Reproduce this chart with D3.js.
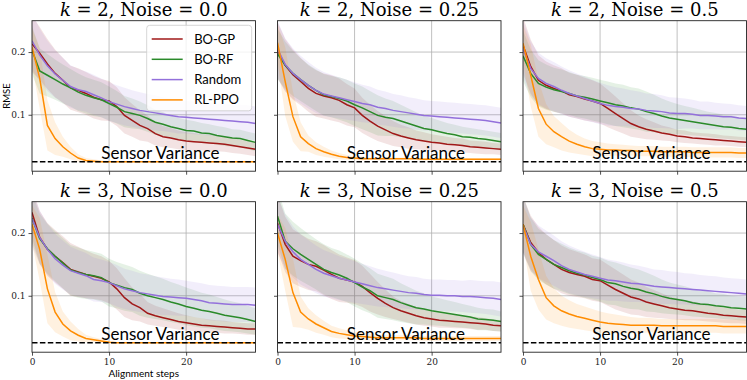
<!DOCTYPE html>
<html>
<head>
<meta charset="utf-8">
<script src="https://cdn.jsdelivr.net/npm/d3@7"></script>
<style>
  body { margin: 0; background: #fff; }
  svg { display: block; }
</style>
</head>
<body>
<svg id="svg"></svg>
<script>
// methods and colours
const methods = ['BO-GP', 'BO-RF', 'Random', 'RL-PPO']
const methodColors = ['#a01818', '#2a8a2a', '#9370db', '#ff8c00']

const kValues = [2, 2, 2, 3, 3, 3]
const noiseLabels = ['0.0', '0.25', '0.5', '0.0', '0.25', '0.5']

const sensorVariance = 0.025
const xTicks = [0, 10, 20]
const yTicks = [0.1, 0.2]

// ---- k = 2, noise 0.0
const gp_k2_n00 = [0.213,0.198,0.181,0.166,0.155,0.143,0.139,0.134,0.128,0.124,0.122,0.113,0.099,0.091,0.083,0.078,0.070,0.065,0.063,0.060,0.058,0.057,0.056,0.055,0.054,0.053,0.051,0.049,0.047,0.045]
const rf_k2_n00 = [0.203,0.170,0.163,0.156,0.149,0.143,0.136,0.131,0.127,0.124,0.118,0.112,0.105,0.102,0.099,0.094,0.088,0.085,0.081,0.078,0.075,0.074,0.071,0.070,0.067,0.065,0.063,0.062,0.059,0.056]
const rnd_k2_n00 = [0.218,0.195,0.178,0.165,0.155,0.145,0.140,0.137,0.132,0.127,0.121,0.117,0.113,0.110,0.107,0.105,0.103,0.101,0.099,0.097,0.096,0.095,0.094,0.093,0.092,0.091,0.090,0.089,0.088,0.086]
const ppo_k2_n00 = [0.208,0.158,0.083,0.062,0.049,0.039,0.031,0.027,0.026,0.025,0.025,0.025,0.025,0.025,0.025,0.025,0.025,0.025,0.025,0.025,0.025,0.025,0.025,0.025,0.025,0.025,0.025,0.025,0.025,0.025]
const gp_k2_n00_sd = [0.045,0.042,0.040,0.038,0.036,0.035,0.035,0.034,0.034,0.033,0.032,0.031,0.029,0.026,0.024,0.021,0.019,0.017,0.016,0.015,0.014,0.014,0.013,0.013,0.012,0.012,0.012,0.011,0.011,0.011]
const rf_k2_n00_sd = [0.038,0.036,0.034,0.032,0.031,0.030,0.030,0.029,0.029,0.028,0.027,0.026,0.025,0.024,0.022,0.021,0.020,0.019,0.018,0.017,0.017,0.016,0.016,0.015,0.015,0.015,0.014,0.014,0.014,0.014]
const rnd_k2_n00_sd = [0.045,0.042,0.040,0.038,0.036,0.034,0.033,0.032,0.032,0.031,0.031,0.030,0.030,0.029,0.029,0.028,0.028,0.027,0.027,0.027,0.026,0.026,0.026,0.026,0.026,0.026,0.026,0.027,0.027,0.027]
const ppo_k2_n00_sd = [0.030,0.048,0.040,0.026,0.016,0.010,0.006,0.004,0.003,0.002,0.001,0.001,0.001,0.001,0.001,0.001,0.001,0.001,0.001,0.001,0.001,0.001,0.001,0.001,0.001,0.001,0.001,0.001,0.001,0.001]

// ---- k = 2, noise 0.25
const gp_k2_n025 = [0.203,0.179,0.164,0.153,0.142,0.134,0.130,0.127,0.123,0.116,0.111,0.099,0.090,0.082,0.076,0.070,0.066,0.063,0.060,0.058,0.056,0.055,0.053,0.052,0.051,0.049,0.048,0.047,0.046,0.045]
const rf_k2_n025 = [0.197,0.179,0.166,0.156,0.147,0.139,0.132,0.129,0.126,0.122,0.116,0.111,0.105,0.099,0.096,0.094,0.090,0.086,0.082,0.078,0.076,0.073,0.070,0.068,0.065,0.064,0.062,0.061,0.059,0.057]
const rnd_k2_n025 = [0.205,0.180,0.166,0.156,0.147,0.139,0.133,0.130,0.127,0.124,0.121,0.118,0.116,0.112,0.110,0.107,0.105,0.103,0.101,0.099,0.098,0.097,0.096,0.095,0.094,0.093,0.092,0.091,0.089,0.087]
const ppo_k2_n025 = [0.215,0.153,0.097,0.065,0.054,0.046,0.041,0.037,0.034,0.032,0.031,0.030,0.030,0.030,0.030,0.030,0.030,0.030,0.030,0.029,0.029,0.029,0.029,0.029,0.029,0.029,0.029,0.029,0.029,0.029]
const gp_k2_n025_sd = [0.045,0.042,0.040,0.038,0.037,0.037,0.036,0.036,0.035,0.033,0.031,0.028,0.026,0.024,0.022,0.020,0.018,0.017,0.015,0.014,0.013,0.012,0.012,0.011,0.011,0.010,0.010,0.010,0.009,0.009]
const rf_k2_n025_sd = [0.040,0.038,0.036,0.034,0.033,0.033,0.033,0.033,0.034,0.034,0.034,0.034,0.033,0.032,0.030,0.028,0.026,0.024,0.022,0.020,0.019,0.018,0.017,0.016,0.016,0.015,0.015,0.014,0.014,0.014]
const rnd_k2_n025_sd = [0.045,0.042,0.040,0.038,0.037,0.036,0.035,0.034,0.033,0.032,0.031,0.030,0.029,0.028,0.027,0.026,0.026,0.025,0.025,0.024,0.024,0.024,0.024,0.024,0.024,0.024,0.024,0.024,0.024,0.024]
const ppo_k2_n025_sd = [0.030,0.055,0.040,0.023,0.013,0.010,0.008,0.006,0.005,0.004,0.003,0.003,0.002,0.002,0.002,0.002,0.002,0.002,0.002,0.002,0.002,0.002,0.002,0.002,0.002,0.002,0.002,0.002,0.002,0.002]

// ---- k = 2, noise 0.5
const gp_k2_n05 = [0.211,0.177,0.155,0.147,0.142,0.138,0.132,0.129,0.125,0.122,0.118,0.110,0.102,0.094,0.086,0.081,0.077,0.074,0.071,0.069,0.066,0.065,0.063,0.062,0.061,0.060,0.059,0.058,0.057,0.056]
const rf_k2_n05 = [0.194,0.166,0.150,0.144,0.140,0.137,0.134,0.130,0.128,0.125,0.122,0.119,0.116,0.114,0.111,0.109,0.105,0.102,0.098,0.095,0.093,0.091,0.089,0.087,0.085,0.083,0.081,0.080,0.078,0.077]
const rnd_k2_n05 = [0.205,0.174,0.158,0.150,0.145,0.139,0.134,0.130,0.126,0.122,0.118,0.115,0.113,0.112,0.110,0.109,0.107,0.106,0.105,0.103,0.102,0.102,0.101,0.099,0.099,0.098,0.097,0.097,0.095,0.094]
const ppo_k2_n05 = [0.214,0.163,0.110,0.085,0.073,0.065,0.058,0.053,0.049,0.046,0.045,0.044,0.044,0.043,0.043,0.042,0.042,0.042,0.041,0.041,0.041,0.041,0.040,0.040,0.040,0.040,0.040,0.040,0.039,0.039]
const gp_k2_n05_sd = [0.045,0.043,0.040,0.038,0.037,0.036,0.035,0.035,0.034,0.033,0.032,0.030,0.027,0.024,0.021,0.018,0.016,0.014,0.012,0.011,0.010,0.010,0.009,0.009,0.009,0.009,0.008,0.008,0.008,0.008]
const rf_k2_n05_sd = [0.040,0.038,0.037,0.036,0.035,0.035,0.034,0.034,0.034,0.034,0.034,0.034,0.034,0.034,0.033,0.033,0.032,0.030,0.028,0.026,0.024,0.023,0.022,0.021,0.020,0.020,0.019,0.019,0.018,0.018]
const rnd_k2_n05_sd = [0.045,0.043,0.041,0.040,0.039,0.038,0.037,0.036,0.035,0.034,0.033,0.032,0.031,0.030,0.029,0.028,0.027,0.027,0.026,0.025,0.025,0.024,0.023,0.022,0.022,0.021,0.021,0.020,0.020,0.020]
const ppo_k2_n05_sd = [0.030,0.050,0.045,0.032,0.025,0.022,0.018,0.015,0.013,0.012,0.011,0.010,0.009,0.009,0.008,0.008,0.008,0.008,0.008,0.008,0.008,0.008,0.008,0.008,0.008,0.008,0.008,0.008,0.008,0.008]

// ---- k = 3, noise 0.0
const gp_k3_n00 = [0.233,0.193,0.174,0.163,0.153,0.142,0.138,0.134,0.131,0.128,0.122,0.111,0.097,0.087,0.081,0.072,0.068,0.065,0.062,0.059,0.057,0.055,0.053,0.052,0.051,0.050,0.049,0.048,0.047,0.047]
const rf_k3_n00 = [0.224,0.191,0.175,0.163,0.152,0.141,0.137,0.134,0.132,0.129,0.121,0.117,0.113,0.110,0.104,0.100,0.097,0.094,0.090,0.087,0.083,0.080,0.077,0.075,0.072,0.069,0.067,0.065,0.062,0.059]
const rnd_k3_n00 = [0.223,0.193,0.174,0.159,0.149,0.140,0.136,0.132,0.126,0.124,0.121,0.116,0.111,0.108,0.105,0.103,0.101,0.099,0.098,0.097,0.096,0.094,0.092,0.089,0.088,0.087,0.086,0.086,0.086,0.085]
const ppo_k3_n00 = [0.214,0.174,0.111,0.074,0.055,0.044,0.037,0.032,0.030,0.028,0.026,0.025,0.025,0.025,0.025,0.025,0.025,0.025,0.025,0.025,0.025,0.025,0.025,0.025,0.025,0.025,0.025,0.025,0.025,0.025]
const gp_k3_n00_sd = [0.040,0.042,0.042,0.042,0.042,0.042,0.040,0.038,0.036,0.035,0.034,0.033,0.031,0.026,0.022,0.018,0.016,0.015,0.014,0.013,0.012,0.011,0.011,0.010,0.010,0.010,0.009,0.009,0.009,0.009]
const rf_k3_n00_sd = [0.040,0.040,0.040,0.040,0.040,0.040,0.040,0.039,0.038,0.038,0.038,0.037,0.037,0.036,0.036,0.035,0.034,0.033,0.032,0.031,0.030,0.029,0.028,0.027,0.026,0.025,0.024,0.023,0.022,0.021]
const rnd_k3_n00_sd = [0.045,0.043,0.041,0.040,0.039,0.038,0.037,0.036,0.035,0.034,0.033,0.033,0.032,0.032,0.031,0.031,0.030,0.030,0.029,0.029,0.028,0.028,0.028,0.028,0.028,0.028,0.028,0.028,0.028,0.028]
const ppo_k3_n00_sd = [0.030,0.050,0.055,0.032,0.020,0.015,0.010,0.006,0.004,0.003,0.002,0.001,0.001,0.001,0.001,0.001,0.001,0.001,0.001,0.001,0.001,0.001,0.001,0.001,0.001,0.001,0.001,0.001,0.001,0.001]

// ---- k = 3, noise 0.25
const gp_k3_n025 = [0.216,0.182,0.163,0.156,0.150,0.147,0.141,0.134,0.128,0.125,0.122,0.115,0.105,0.096,0.088,0.081,0.076,0.072,0.068,0.065,0.063,0.061,0.060,0.059,0.058,0.057,0.056,0.055,0.053,0.052]
const rf_k3_n025 = [0.227,0.187,0.175,0.166,0.158,0.150,0.142,0.137,0.133,0.128,0.121,0.114,0.108,0.100,0.097,0.094,0.089,0.085,0.081,0.079,0.076,0.074,0.072,0.070,0.068,0.066,0.063,0.062,0.061,0.059]
const rnd_k3_n025 = [0.214,0.187,0.170,0.158,0.150,0.142,0.136,0.132,0.128,0.125,0.122,0.119,0.116,0.113,0.111,0.109,0.107,0.105,0.104,0.102,0.101,0.101,0.100,0.100,0.099,0.099,0.098,0.097,0.096,0.094]
const ppo_k3_n025 = [0.200,0.158,0.105,0.074,0.063,0.055,0.049,0.043,0.040,0.038,0.036,0.035,0.034,0.033,0.033,0.033,0.033,0.033,0.033,0.032,0.032,0.032,0.032,0.032,0.032,0.032,0.032,0.032,0.032,0.032]
const gp_k3_n025_sd = [0.045,0.044,0.043,0.042,0.041,0.040,0.040,0.039,0.038,0.036,0.035,0.033,0.030,0.026,0.022,0.018,0.016,0.015,0.014,0.013,0.012,0.012,0.011,0.011,0.010,0.010,0.010,0.009,0.009,0.009]
const rf_k3_n025_sd = [0.045,0.044,0.043,0.042,0.041,0.040,0.040,0.039,0.039,0.038,0.038,0.037,0.036,0.035,0.034,0.033,0.031,0.029,0.027,0.025,0.023,0.022,0.021,0.020,0.019,0.018,0.018,0.017,0.017,0.016]
const rnd_k3_n025_sd = [0.045,0.043,0.041,0.040,0.039,0.038,0.037,0.036,0.035,0.034,0.033,0.032,0.031,0.030,0.029,0.028,0.027,0.026,0.026,0.025,0.025,0.025,0.025,0.025,0.025,0.026,0.026,0.026,0.027,0.027]
const ppo_k3_n025_sd = [0.030,0.050,0.055,0.025,0.017,0.014,0.011,0.009,0.008,0.007,0.006,0.006,0.005,0.005,0.004,0.004,0.004,0.004,0.004,0.004,0.004,0.004,0.004,0.004,0.004,0.004,0.004,0.004,0.004,0.004]

// ---- k = 3, noise 0.5
const gp_k3_n05 = [0.214,0.185,0.169,0.158,0.150,0.142,0.137,0.134,0.131,0.126,0.124,0.117,0.110,0.104,0.098,0.095,0.090,0.087,0.084,0.081,0.079,0.077,0.076,0.074,0.072,0.071,0.069,0.068,0.067,0.066]
const rf_k3_n05 = [0.214,0.182,0.166,0.158,0.150,0.145,0.140,0.136,0.133,0.129,0.126,0.121,0.119,0.115,0.112,0.110,0.106,0.103,0.099,0.096,0.094,0.092,0.089,0.087,0.086,0.084,0.083,0.081,0.080,0.079]
const rnd_k3_n05 = [0.212,0.182,0.170,0.163,0.156,0.148,0.142,0.138,0.134,0.131,0.128,0.125,0.124,0.122,0.120,0.119,0.117,0.115,0.114,0.113,0.112,0.111,0.110,0.109,0.108,0.107,0.106,0.105,0.104,0.103]
const ppo_k3_n05 = [0.214,0.163,0.126,0.097,0.084,0.076,0.071,0.067,0.064,0.061,0.058,0.056,0.055,0.054,0.053,0.053,0.053,0.053,0.052,0.052,0.052,0.052,0.052,0.052,0.052,0.052,0.051,0.051,0.051,0.051]
const gp_k3_n05_sd = [0.045,0.043,0.041,0.040,0.039,0.038,0.037,0.036,0.035,0.034,0.034,0.033,0.032,0.030,0.028,0.026,0.024,0.022,0.020,0.018,0.017,0.016,0.015,0.014,0.013,0.013,0.012,0.012,0.011,0.011]
const rf_k3_n05_sd = [0.045,0.043,0.041,0.040,0.039,0.038,0.037,0.036,0.036,0.035,0.035,0.035,0.034,0.034,0.033,0.032,0.031,0.029,0.027,0.025,0.024,0.023,0.022,0.021,0.021,0.020,0.020,0.019,0.019,0.019]
const rnd_k3_n05_sd = [0.045,0.043,0.042,0.041,0.040,0.039,0.038,0.037,0.036,0.035,0.034,0.033,0.032,0.031,0.030,0.029,0.028,0.027,0.027,0.026,0.026,0.025,0.025,0.024,0.024,0.024,0.023,0.023,0.023,0.023]
const ppo_k3_n05_sd = [0.030,0.055,0.048,0.035,0.028,0.024,0.022,0.020,0.019,0.018,0.017,0.016,0.015,0.014,0.013,0.012,0.012,0.011,0.011,0.011,0.011,0.011,0.011,0.011,0.011,0.011,0.011,0.011,0.011,0.011]

const panels = [
  { means: [gp_k2_n00, rf_k2_n00, rnd_k2_n00, ppo_k2_n00], sds: [gp_k2_n00_sd, rf_k2_n00_sd, rnd_k2_n00_sd, ppo_k2_n00_sd] },
  { means: [gp_k2_n025, rf_k2_n025, rnd_k2_n025, ppo_k2_n025], sds: [gp_k2_n025_sd, rf_k2_n025_sd, rnd_k2_n025_sd, ppo_k2_n025_sd] },
  { means: [gp_k2_n05, rf_k2_n05, rnd_k2_n05, ppo_k2_n05], sds: [gp_k2_n05_sd, rf_k2_n05_sd, rnd_k2_n05_sd, ppo_k2_n05_sd] },
  { means: [gp_k3_n00, rf_k3_n00, rnd_k3_n00, ppo_k3_n00], sds: [gp_k3_n00_sd, rf_k3_n00_sd, rnd_k3_n00_sd, ppo_k3_n00_sd] },
  { means: [gp_k3_n025, rf_k3_n025, rnd_k3_n025, ppo_k3_n025], sds: [gp_k3_n025_sd, rf_k3_n025_sd, rnd_k3_n025_sd, ppo_k3_n025_sd] },
  { means: [gp_k3_n05, rf_k3_n05, rnd_k3_n05, ppo_k3_n05], sds: [gp_k3_n05_sd, rf_k3_n05_sd, rnd_k3_n05_sd, ppo_k3_n05_sd] }
]

const w = 747
const h = 380
const colLeft = [32, 277.5, 523]
const rowTop = [20.7, 201.7]
const pw = 223.5
const ph = 150.5

const serif = "'DejaVu Serif', serif"
const sans = "Lato, 'Liberation Sans', sans-serif"

const svg = d3.select('#svg').attr('width', w).attr('height', h)

const x = d3.scaleLinear().domain([0, 29]).range([0, pw])
const y = d3.scaleLinear().domain([0.01, 0.25]).range([ph, 0])

const line = d3.line().x((d, i) => x(i)).y(d => y(d))
const band = d3.area()
  .x((d, i) => x(i))
  .y0(d => y(d[0] - d[1]))
  .y1(d => y(d[0] + d[1]))

panels.forEach((p, pi) => {
  const col = pi % 3
  const row = Math.floor(pi / 3)
  const g = svg.append('g').attr('transform', `translate(${colLeft[col]},${rowTop[row]})`)

  g.append('clipPath').attr('id', 'clip' + pi)
    .append('rect').attr('width', pw).attr('height', ph)

  // grid
  g.selectAll('.gx').data(xTicks.slice(1)).enter().append('line')
    .attr('x1', d => x(d)).attr('x2', d => x(d)).attr('y1', 0).attr('y2', ph)
    .attr('stroke', '#b0b0b0').attr('stroke-width', 0.8)
  g.selectAll('.gy').data(yTicks).enter().append('line')
    .attr('x1', 0).attr('x2', pw).attr('y1', d => y(d)).attr('y2', d => y(d))
    .attr('stroke', '#b0b0b0').attr('stroke-width', 0.8)

  const plot = g.append('g').attr('clip-path', `url(#clip${pi})`)

  p.means.forEach((m, si) => {
    plot.append('path')
      .datum(m.map((v, i) => [v, p.sds[si][i]]))
      .attr('d', band)
      .attr('fill', methodColors[si])
      .attr('fill-opacity', 0.12)
  })
  p.means.forEach((m, si) => {
    plot.append('path')
      .datum(m)
      .attr('d', line)
      .attr('fill', 'none')
      .attr('stroke', methodColors[si])
      .attr('stroke-width', 1.5)
  })

  // sensor variance
  plot.append('line')
    .attr('x1', x(0)).attr('x2', x(29))
    .attr('y1', y(sensorVariance)).attr('y2', y(sensorVariance))
    .attr('stroke', '#000').attr('stroke-width', 1.5)
    .attr('stroke-dasharray', '5.5,2.4')
  g.append('text')
    .attr('x', x(9)).attr('y', y(0.03))
    .attr('font-family', sans).attr('font-size', 17)
    .attr('fill', '#000')
    .text('Sensor Variance')

  // axes
  const ax = g.append('g').attr('transform', `translate(0,${ph})`)
    .call(d3.axisBottom(x).tickValues(xTicks).tickSize(3.5).tickPadding(3)
      .tickFormat(row === 1 ? d3.format('d') : () => ''))
  const ay = g.append('g')
    .call(d3.axisLeft(y).tickValues(yTicks).tickSize(3.5).tickPadding(3)
      .tickFormat(col === 0 ? d3.format('.1f') : () => ''))
  ;[ax, ay].forEach(a => {
    a.select('.domain').remove()
    a.selectAll('line').attr('stroke', '#222').attr('stroke-width', 0.8)
    a.selectAll('text').attr('font-family', serif).attr('font-size', 9).attr('fill', '#222')
  })

  g.append('rect').attr('width', pw).attr('height', ph)
    .attr('fill', 'none').attr('stroke', '#222').attr('stroke-width', 0.9)

  // title
  const t = g.append('text')
    .attr('x', pw / 2).attr('y', -4.7)
    .attr('text-anchor', 'middle')
    .attr('font-family', serif).attr('font-size', 18)
    .attr('fill', '#000')
  t.append('tspan').attr('font-style', 'italic').text('k')
  t.append('tspan').text(` = ${kValues[pi]}, Noise = ${noiseLabels[pi]}`)

  // legend
  if (pi === 0) {
    const lg = g.append('g').attr('transform', `translate(${146.7 - colLeft[0]},${25.3 - rowTop[0]})`)
    lg.append('rect').attr('width', 105).attr('height', 85.5).attr('rx', 3)
      .attr('fill', '#fff').attr('fill-opacity', 0.8)
      .attr('stroke', '#ccc').attr('stroke-width', 0.8)
    methods.forEach((name, i) => {
      const yy = 13.7 + i * 20.3
      lg.append('line').attr('x1', 5).attr('x2', 36).attr('y1', yy).attr('y2', yy)
        .attr('stroke', methodColors[i]).attr('stroke-width', 1.5)
      lg.append('text').attr('x', 47.5).attr('y', yy + 4.6)
        .attr('font-family', sans).attr('font-size', 13).attr('fill', '#000')
        .text(name)
    })
  }
})

// axis labels
svg.append('text')
  .attr('transform', `translate(9.5,${rowTop[0] + ph / 2}) rotate(-90)`)
  .attr('text-anchor', 'middle')
  .attr('font-family', sans).attr('font-size', 9.5)
  .text('RMSE')

svg.append('text')
  .attr('x', colLeft[0] + pw / 2).attr('y', 377)
  .attr('text-anchor', 'middle')
  .attr('font-family', sans).attr('font-size', 10)
  .text('Alignment steps')
</script>
</body>
</html>
